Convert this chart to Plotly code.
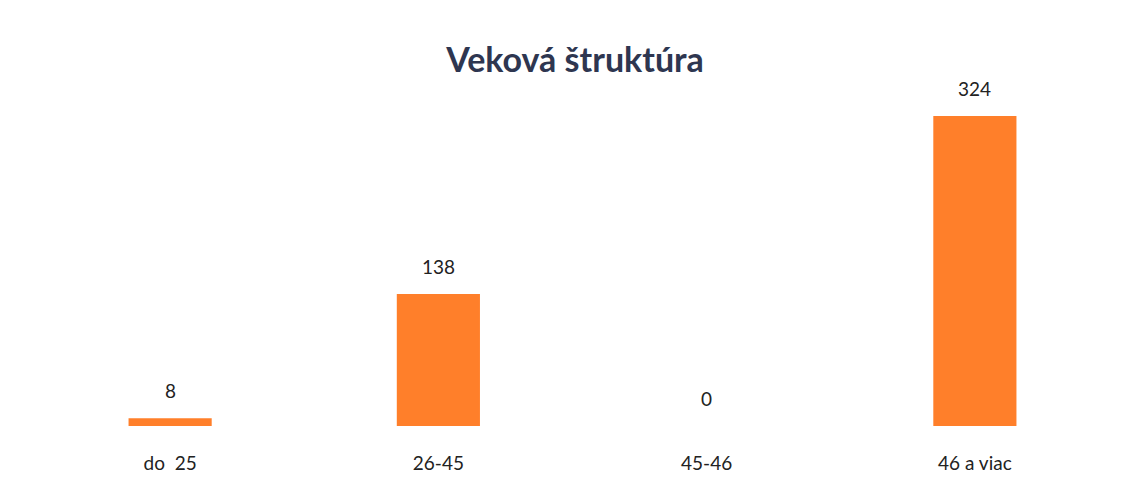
import plotly.graph_objects as go

categories = ["do  25", "26-45", "45-46", "46 a viac"]
values = [8, 138, 0, 324]
title_text = "Veková štruktúra"

fig = go.Figure()
fig.add_trace(go.Bar(x=categories, y=values, marker=dict(color="#FF7F2A", line=dict(width=0)),
                     width=0.31, hoverinfo="x+y"))

for cat, val in zip(categories, values):
    fig.add_annotation(x=cat, y=val, text=str(val), showarrow=False,
                       yanchor="bottom", yshift=14,
                       font=dict(family="Lato, Open Sans, sans-serif", size=19, color="#222222"))

fig.update_layout(
    width=1134, height=491,
    paper_bgcolor="white", plot_bgcolor="white",
    margin=dict(l=28, r=33, t=83, b=73),
    showlegend=False,
    title=dict(text="<b>" + title_text + "</b>", x=0.5, xanchor="center", y=0.893, yanchor="middle",
               font=dict(family="Lato, Open Sans, sans-serif", size=34, color="#2E3650")),
    xaxis=dict(showline=False, showgrid=False, zeroline=False, ticks="",
               ticklabelstandoff=24,
               tickfont=dict(family="Lato, Open Sans, sans-serif", size=19, color="#222222")),
    yaxis=dict(range=[0, 350], visible=False, showgrid=False, zeroline=False),
)

fig.write_html("out.html")
